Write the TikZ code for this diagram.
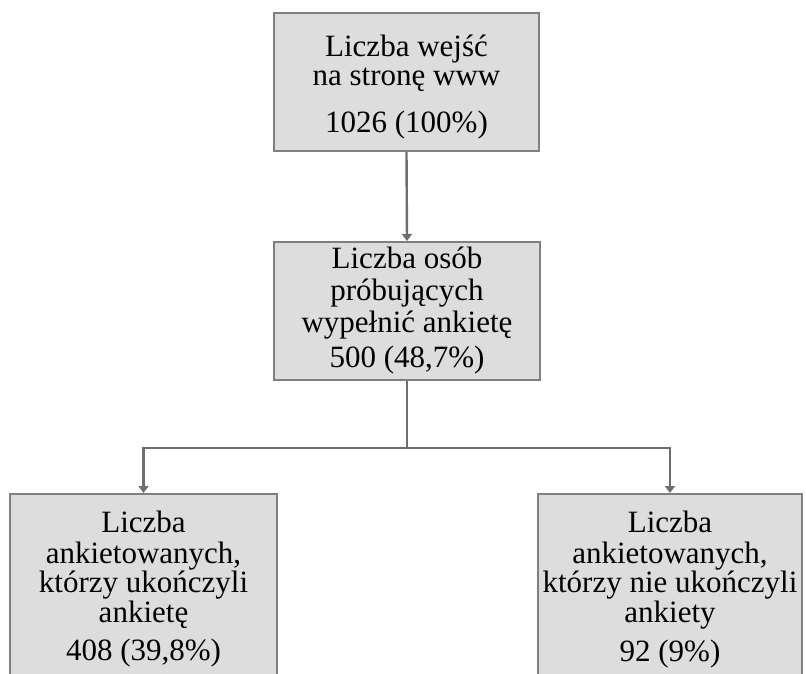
\documentclass[tikz,border=0pt]{standalone}
\usepackage{fontspec}
\setmainfont{Liberation Serif}
\usetikzlibrary{arrows.meta}
\definecolor{boxfill}{HTML}{DDDDDD}
\definecolor{boxline}{HTML}{7F7F7F}
\definecolor{connline}{HTML}{6E6E6E}
\begin{document}
\begin{tikzpicture}[x=1pt,y=-1pt,
  box/.style={draw=boxline, fill=boxfill, line width=2pt, rectangle, inner sep=0pt},
  txt/.style={anchor=base, inner sep=0pt, font=\fontsize{31}{31}\selectfont, text=black},
  conn/.style={draw=connline, line width=2.4pt},
  arr/.style={conn, -{Triangle[length=7pt,width=10pt]}}]
\useasboundingbox (0,0) rectangle (806,673);
\clip (0,0) rectangle (806,673);
% boxes
\node[box, minimum width=265pt, minimum height=138pt] (top) at (406.5,82) {};
\node[box, minimum width=266pt, minimum height=138pt] (mid) at (407,311) {};
\node[box, minimum width=267pt, minimum height=206pt] (bl) at (143.5,597) {};
\node[box, minimum width=264pt, minimum height=206pt] (br) at (670,597) {};
% texts
\node[txt] (t1) at (406.5,56) {Liczba wejść};
\node[txt] (t2) at (406.5,85) {na stronę www};
\node[txt] (t3) at (406.5,132) {1026 (100\%)};
\node[txt] (m1) at (407,268) {Liczba osób};
\node[txt] (m2) at (407,300) {próbujących};
\node[txt] (m3) at (407,332) {wypełnić ankietę};
\node[txt] (m4) at (407,367) {500 (48,7\%)};
\node[txt] (l1) at (143.5,532) {Liczba};
\node[txt] (l2) at (143.5,563) {ankietowanych,};
\node[txt] (l3) at (143.5,592) {którzy ukończyli};
\node[txt] (l4) at (143.5,622) {ankietę};
\node[txt] (l5) at (143.5,660) {408 (39,8\%)};
\node[txt] (r1) at (670,532) {Liczba};
\node[txt] (r2) at (670,563) {ankietowanych,};
\node[txt] (r3) at (670,592) {którzy nie ukończyli};
\node[txt] (r4) at (670,622) {ankiety};
\node[txt] (r5) at (670,661) {92 (9\%)};
% connectors
\coordinate (split) at (407,448);
\draw[arr] (top.south) -- (mid.north);
\draw[conn] (mid.south) -- (split);
\draw[arr] (split) -| (bl.north);
\draw[arr] (split) -| (br.north);
\end{tikzpicture}
\end{document}
